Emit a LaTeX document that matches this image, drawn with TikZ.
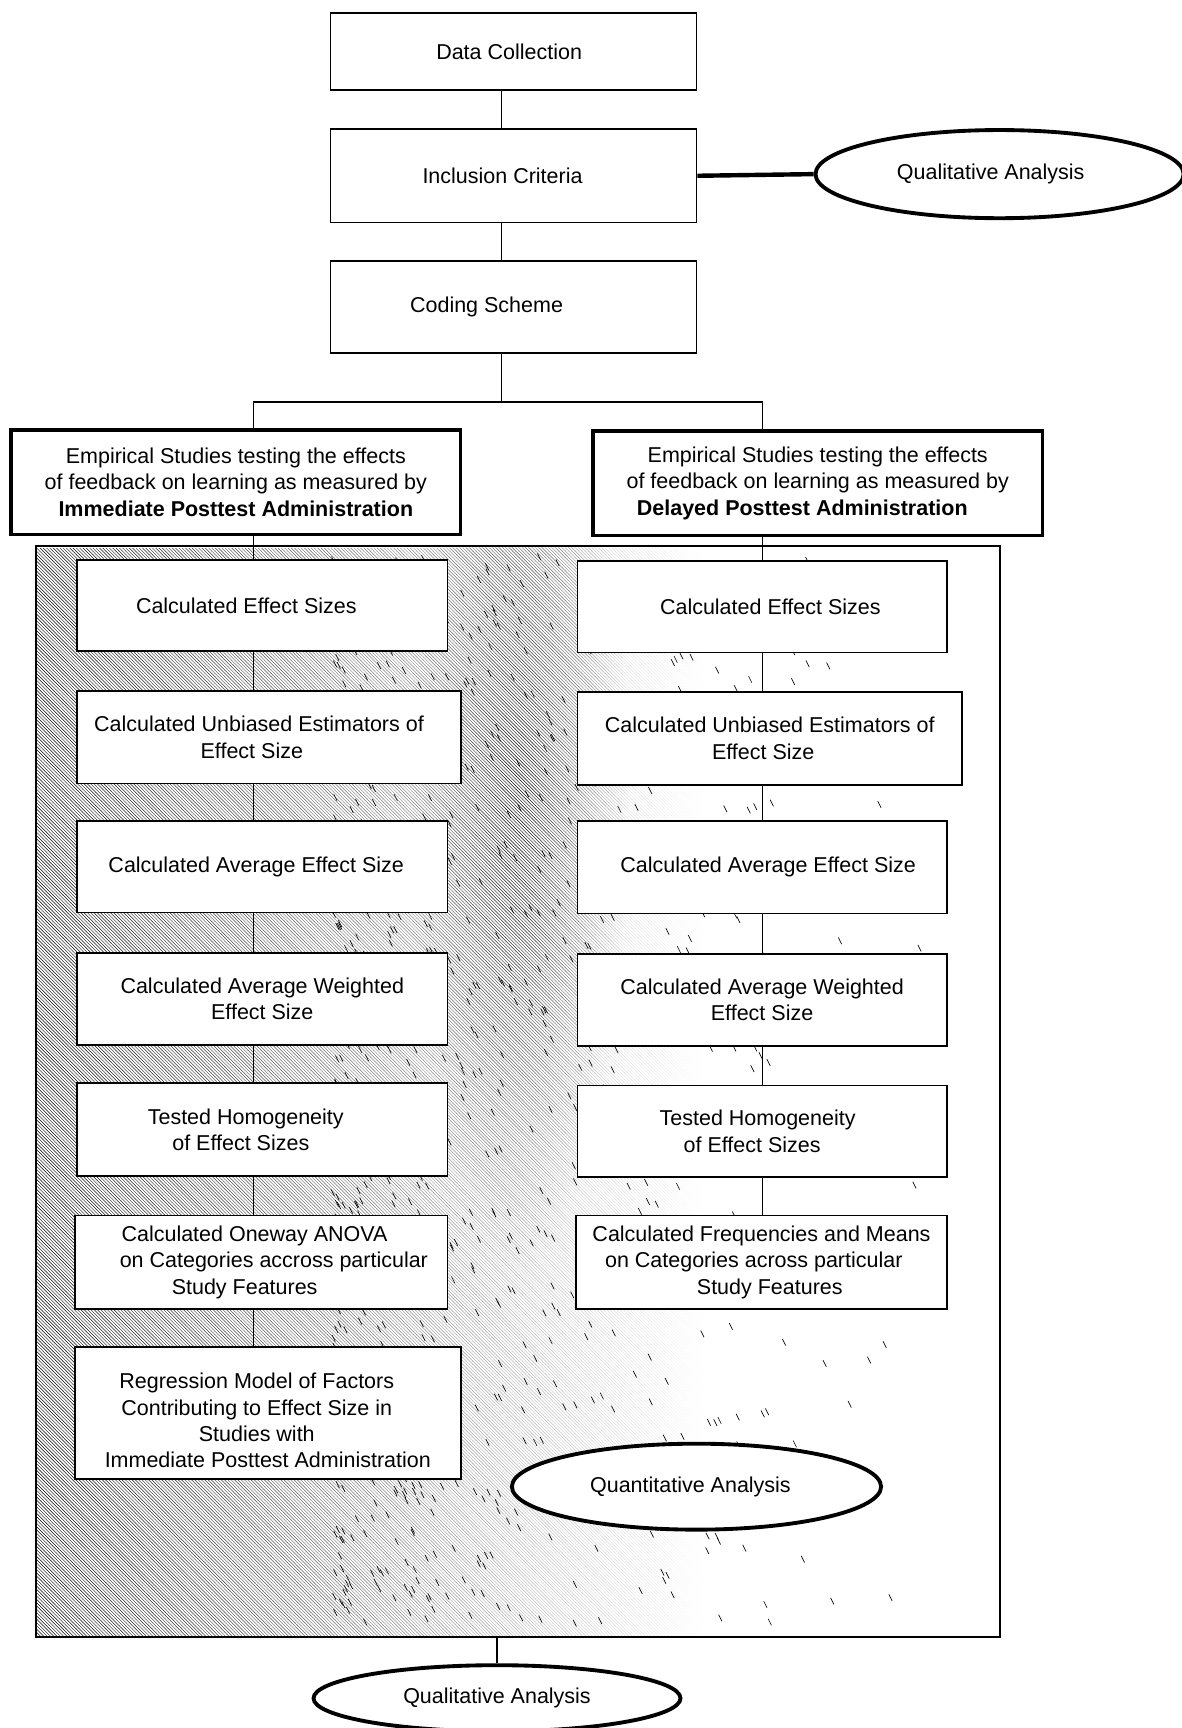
\documentclass[tikz,border=0pt]{standalone}
\usepackage{fontspec}
\setmainfont{Liberation Sans}
\usetikzlibrary{shapes.geometric,patterns,fadings}
\tikzfading[name=hatchfade, left color=transparent!0, right color=transparent!100]
\tikzfading[name=blobfade, inner color=transparent!10, outer color=transparent!100]
\newcommand{\gapR}[1]{\makebox[#1pt]{}}
\begin{document}
\begin{tikzpicture}[x=1pt,y=-1pt,
  font=\fontsize{19.5}{23.8}\selectfont,
  box/.style={draw, line width=1.6pt, fill=white, align=center, inner sep=0pt},
  ebox/.style={box, line width=3.2pt},
  ell/.style={ellipse, draw, line width=3.5pt, fill=white, inner sep=0pt},
  conn/.style={line width=1.4pt},
  thickconn/.style={line width=4pt},
  frm/.style={draw, line width=1.8pt, inner sep=0pt}]
\useasboundingbox (0,0) rectangle (1072,1568);

% ---- shading of the analysis frame ----
\fill[pattern=north west lines, path fading=hatchfade] (33,495) rectangle (640,1485);
\begin{scope}
  \clip (33,495) rectangle (907,1485);
  \fill[pattern=north west lines, path fading=blobfade] (370,300) rectangle (570,1150);
\end{scope}
\pgfmathsetseed{12}
\foreach \i in {1,...,900}{
  \pgfmathsetmacro{\rx}{300+560*rnd*rnd}
  \pgfmathsetmacro{\ry}{500+970*rnd}
  \draw[line width=0.6pt] (\rx,\ry) -- ++(3,6);
}

% ---- nodes ----
\node[frm, minimum width=874, minimum height=990] (fr) at (470,990) {};

\node[box, minimum width=332, minimum height=70] (dc) at (466,47) {Data Collection\gapR{8}};
\node[box, minimum width=332, minimum height=85] (ic) at (466,159.5) {Inclusion Criteria\gapR{20}};
\node[box, minimum width=332, minimum height=83] (cs) at (466,278.5) {Coding Scheme\gapR{49}};
\node[ell, minimum width=334, minimum height=80] (qa) at (907,158) {Qualitative Analysis\gapR{16}};

\node[ebox, minimum width=408, minimum height=95] (eL) at (214,437.5)
  {Empirical Studies testing the effects\\of feedback on learning as measured by\\\textbf{Immediate Posttest Administration}};
\node[ebox, minimum width=408, minimum height=95] (eR) at (742,438.5)
  {Empirical Studies testing the effects\\of feedback on learning as measured by\\\textbf{Delayed Posttest Administration}\gapR{28}};

% left column
\node[box, minimum width=336, minimum height=83] (L1) at (238,549.5) {Calculated Effect Sizes\gapR{29}};
\node[box, minimum width=348, minimum height=84] (L2) at (244,669) {Calculated Unbiased Estimators of\gapR{18}\\Effect Size\gapR{31}};
\node[box, minimum width=336, minimum height=83] (L3) at (238,786.5) {Calculated Average Effect Size\gapR{11}};
\node[box, minimum width=336, minimum height=83] (L4) at (238,906.5) {Calculated Average Weighted\\Effect Size};
\node[box, minimum width=336, minimum height=84] (L5) at (238,1025) {Tested Homogeneity\gapR{30}\\of Effect Sizes\gapR{39}};
\node[box, minimum width=338, minimum height=85] (L6) at (237,1145.5) {Calculated Oneway ANOVA\gapR{12}\\\gapR{23}on Categories accross particular\\Study Features\gapR{30}};
\node[box, minimum width=350, minimum height=120] (L7) at (243,1282) {\rule{0pt}{28pt}Regression Model of Factors\gapR{20}\\Contributing to Effect Size in\gapR{20}\\Studies with\gapR{20}\\Immediate Posttest Administration};

% right column
\node[box, minimum width=335, minimum height=83] (R1) at (691.5,550.5) {\gapR{15}Calculated Effect Sizes};
\node[box, minimum width=349, minimum height=84] (R2) at (698.5,670) {Calculated Unbiased Estimators of\\Effect Size\gapR{12}};
\node[box, minimum width=335, minimum height=84] (R3) at (691.5,787) {\gapR{11}Calculated Average Effect Size};
\node[box, minimum width=335, minimum height=83] (R4) at (691.5,907.5) {Calculated Average Weighted\\Effect Size};
\node[box, minimum width=335, minimum height=83] (R5) at (691.5,1026.5) {Tested Homogeneity\gapR{8}\\of Effect Sizes\gapR{18}};
\node[box, minimum width=336, minimum height=85] (R6) at (691,1145.5) {Calculated Frequencies and Means\\on Categories across particular\gapR{14}\\\gapR{15}Study Features};

\node[ell, minimum width=335, minimum height=78] (qq) at (632,1349) {Quantitative Analysis\gapR{11}};
\node[ell, minimum width=333, minimum height=60] (qb) at (451,1541) {Qualitative Analysis};

% ---- connectors ----
\coordinate (colM) at (455,0);
\coordinate (colL) at (230,0);
\coordinate (colR) at (692,0);
\coordinate (br) at (455,365);

\draw[conn] (dc.south -| colM) -- (ic.north -| colM);
\draw[conn] (ic.south -| colM) -- (cs.north -| colM);
\draw[thickconn] (ic.east) -- (qa.west);
\draw[conn] (cs.south -| colM) -- (br);
\draw[conn] (eL.north -| colL) |- (br) -| (eR.north -| colR);

\draw[conn] (eL.south -| colL) -- (L1.north -| colL);
\draw[conn] (L1.south -| colL) -- (L2.north -| colL);
\draw[conn] (L2.south -| colL) -- (L3.north -| colL);
\draw[conn] (L3.south -| colL) -- (L4.north -| colL);
\draw[conn] (L4.south -| colL) -- (L5.north -| colL);
\draw[conn] (L5.south -| colL) -- (L6.north -| colL);
\draw[conn] (L6.south -| colL) -- (L7.north -| colL);

\draw[conn] (eR.south -| colR) -- (R1.north -| colR);
\draw[conn] (R1.south -| colR) -- (R2.north -| colR);
\draw[conn] (R2.south -| colR) -- (R3.north -| colR);
\draw[conn] (R3.south -| colR) -- (R4.north -| colR);
\draw[conn] (R4.south -| colR) -- (R5.north -| colR);
\draw[conn] (R5.south -| colR) -- (R6.north -| colR);

\draw[line width=2.5pt] (fr.south -| qb.north) -- (qb.north);
\end{tikzpicture}
\end{document}
